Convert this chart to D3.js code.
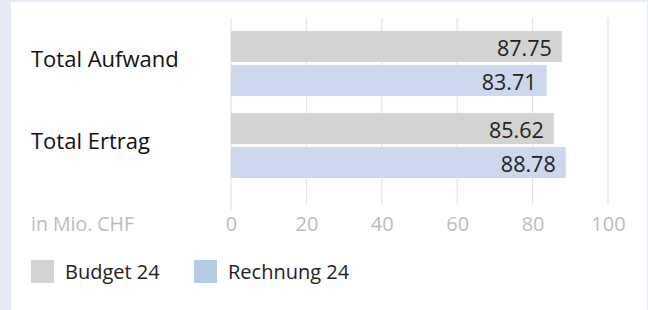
<!DOCTYPE html>
<html>
<head>
<meta charset="utf-8">
<script src="https://cdn.jsdelivr.net/npm/d3@7"></script>
<style>
  html, body { margin: 0; padding: 0; background: #e7eaf7; }
  svg { display: block; }
</style>
</head>
<body>
<svg id="chart"></svg>
<script>
// data
var categories = ["Total Aufwand", "Total Ertrag"];
var seriesNames = ["Budget 24", "Rechnung 24"];
var budget = [87.75, 85.62];
var rechnung = [83.71, 88.78];
var tickValues = [0, 20, 40, 60, 80, 100];
var unitLabel = "in Mio. CHF";

var W = 648, H = 310;
var barColors = ["#d3d3d1", "#cdd8ee"];
var legendColors = ["#d3d3d1", "#b8cbe4"];
var font = "'Open Sans', 'Noto Sans', sans-serif";

var svg = d3.select("#chart")
    .attr("width", W)
    .attr("height", H);

// white panel on the lavender page
svg.append("rect")
    .attr("x", 11).attr("y", 2)
    .attr("width", W - 12).attr("height", H - 2)
    .attr("fill", "#fff");

var x = d3.scaleLinear()
    .domain([0, 100])
    .range([231, 608]);

// two groups of 65px, 17px apart
var y0 = d3.scaleBand()
    .domain(categories)
    .range([31, 178])
    .paddingInner(17 / 82);

var y1 = d3.scaleBand()
    .domain(seriesNames)
    .range([0, y0.bandwidth()])
    .paddingInner(3 / 34);

// gridlines
svg.append("g")
    .selectAll("line")
    .data(tickValues)
    .enter()
    .append("line")
    .attr("x1", function(d) { return x(d); })
    .attr("x2", function(d) { return x(d); })
    .attr("y1", 18)
    .attr("y2", function(d) { return d === 0 ? 210 : 205; })
    .attr("stroke", "#e4e4e4")
    .attr("stroke-width", 1.2);

// axis labels
var axis = svg.append("g")
    .attr("transform", "translate(0,231)")
    .call(d3.axisBottom(x).tickValues(tickValues).tickSize(0).tickPadding(0));
axis.select(".domain").remove();
axis.selectAll("text")
    .attr("dy", 0)
    .attr("font-family", font)
    .attr("font-size", 20)
    .attr("fill", "#bdbdbd");

svg.append("text")
    .attr("x", 31).attr("y", 231)
    .attr("font-family", font)
    .attr("font-size", 19.5)
    .attr("fill", "#bdbdbd")
    .text(unitLabel);

// bars
var rows = categories.map(function(c, i) {
    return { cat: c, vals: [budget[i], rechnung[i]] };
});

var group = svg.selectAll("g.cat")
    .data(rows)
    .enter()
    .append("g")
    .attr("class", "cat")
    .attr("transform", function(d) { return "translate(0," + y0(d.cat) + ")"; });

group.selectAll("rect")
    .data(function(d) { return d.vals.map(function(v, j) { return { v: v, s: seriesNames[j], j: j }; }); })
    .enter()
    .append("rect")
    .attr("x", x(0))
    .attr("y", function(d) { return y1(d.s); })
    .attr("width", function(d) { return x(d.v) - x(0); })
    .attr("height", y1.bandwidth())
    .attr("fill", function(d) { return barColors[d.j]; });

group.selectAll("text.val")
    .data(function(d) { return d.vals.map(function(v, j) { return { v: v, s: seriesNames[j] }; }); })
    .enter()
    .append("text")
    .attr("class", "val")
    .attr("x", function(d) { return x(d.v) - 10; })
    .attr("y", function(d) { return y1(d.s) + y1.bandwidth() / 2; })
    .attr("dy", "0.45em")
    .attr("text-anchor", "end")
    .attr("font-family", font)
    .attr("font-size", 21.5)
    .attr("fill", "#222")
    .text(function(d) { return d3.format(".2f")(d.v); });

// category labels
group.append("text")
    .attr("x", 31)
    .attr("y", y0.bandwidth() / 2)
    .attr("dy", "0.17em")
    .attr("font-family", font)
    .attr("font-size", 22)
    .attr("fill", "#111")
    .text(function(d) { return d.cat; });

// legend
var legendX = [31, 194];
var legend = svg.selectAll("g.legend")
    .data(seriesNames)
    .enter()
    .append("g")
    .attr("class", "legend")
    .attr("transform", function(d, i) { return "translate(" + legendX[i] + ",260)"; });

legend.append("rect")
    .attr("width", 23).attr("height", 23)
    .attr("fill", function(d, i) { return legendColors[i]; });

legend.append("text")
    .attr("x", 34).attr("y", 11.5)
    .attr("dy", "0.37em")
    .attr("font-family", font)
    .attr("font-size", 20)
    .attr("fill", "#222")
    .text(function(d) { return d; });
</script>
</body>
</html>
